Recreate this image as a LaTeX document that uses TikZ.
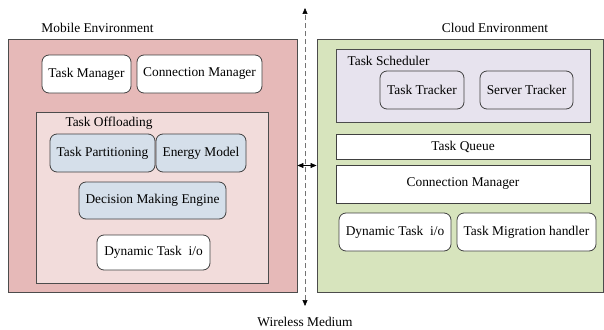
\documentclass[tikz,border=0pt]{standalone}
\usepackage{fontspec}
\setmainfont{Liberation Serif}
\usetikzlibrary{arrows.meta}

\definecolor{mobfill}{HTML}{E6B9B8}
\definecolor{offfill}{HTML}{F2DCDB}
\definecolor{partfill}{HTML}{D5DFEA}
\definecolor{cloudfill}{HTML}{D7E4BD}
\definecolor{schedfill}{HTML}{E7E3EE}

\begin{document}
\begin{tikzpicture}[
    x=1pt, y=-1pt,
    font=\fontsize{13.4}{15}\selectfont,
    env/.style={draw=black!70, line width=0.9pt, inner sep=0pt},
    comp/.style={draw=black!75, line width=0.8pt, rounded corners=7pt, fill=white, inner sep=0pt},
    part/.style={comp, fill=partfill},
    bar/.style={draw=black!75, line width=0.8pt, fill=white, inner sep=0pt},
    arrow/.style={{Triangle[length=6pt,width=5pt,color=black]}-{Triangle[length=6pt,width=5pt,color=black]}, black, line width=0.6pt}
]
\useasboundingbox (0,0) rectangle (604,329);

% Mobile side
\node[env, fill=mobfill, minimum width=289pt, minimum height=253pt] (mob) at (152.5,165.5) {};
\node (moblabel) at (97.5,28) {Mobile Environment};
\node[comp, minimum width=89pt, minimum height=38pt] (taskman) at (86.5,74) {Task Manager};
\node[comp, minimum width=125pt, minimum height=38pt] (mobconn) at (199.5,74) {Connection Manager};
\node[env, fill=offfill, minimum width=232pt, minimum height=171pt] (offload) at (152,197.5) {};
\node[anchor=west] (offlabel) at (62,123) {Task Offloading};
\node[part, minimum width=105pt, minimum height=38pt] (partition) at (102.5,153) {Task Partitioning};
\node[part, minimum width=90pt, minimum height=38pt] (energy) at (201,153) {Energy Model};
\node[part, minimum width=147pt, minimum height=37pt] (decision) at (152.5,200.5) {Decision Making Engine};
\node[comp, minimum width=113pt, minimum height=35pt] (mobio) at (153.5,252.5) {Dynamic Task~ i/o};

% Cloud side
\node[env, fill=cloudfill, minimum width=286pt, minimum height=253pt] (cloud) at (460,165.5) {};
\node (cloudlabel) at (495,28) {Cloud Environment};
\node[env, fill=schedfill, minimum width=254pt, minimum height=73pt] (sched) at (463,85.5) {};
\node[anchor=west] (schedlabel) at (344,61) {Task Scheduler};
\node[comp, fill=schedfill, minimum width=84pt, minimum height=38pt] (tracker) at (422,90) {Task Tracker};
\node[comp, fill=schedfill, minimum width=93pt, minimum height=38pt] (server) at (526.5,90) {Server Tracker};
\node[bar, minimum width=254pt, minimum height=25pt] (queue) at (463,146.5) {Task Queue};
\node[bar, minimum width=254pt, minimum height=38pt] (cloudconn) at (463,184) {Connection Manager};
\node[comp, minimum width=112pt, minimum height=38pt] (cloudio) at (395,232) {Dynamic Task~ i/o};
\node[comp, minimum width=139pt, minimum height=38pt] (migrate) at (526.5,232) {Task Migration handler};

% Wireless medium
\coordinate (top) at (305,8);
\coordinate (bottom) at (305,306);
\draw[arrow, dashed, dash pattern=on 5pt off 3pt, draw=black!55] (bottom) -- (top);
\draw[arrow] (mob.east) -- (cloud.west);
\node (wireless) at (305,322) {Wireless Medium};
\end{tikzpicture}
\end{document}
